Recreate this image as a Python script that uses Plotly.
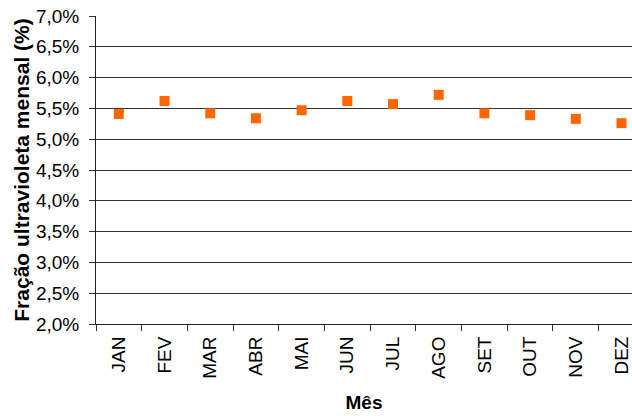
import plotly.graph_objects as go

# Monthly ultraviolet fraction of global radiation
meses = ["JAN", "FEV", "MAR", "ABR", "MAI", "JUN",
         "JUL", "AGO", "SET", "OUT", "NOV", "DEZ"]
fracao_uv = [0.0541, 0.0562, 0.0542, 0.0534, 0.0547, 0.0562,
             0.0557, 0.0572, 0.0542, 0.0539, 0.0533, 0.0526]
y_ticks = [0.020, 0.025, 0.030, 0.035, 0.040, 0.045,
           0.050, 0.055, 0.060, 0.065, 0.070]

fig = go.Figure(
    go.Scatter(
        x=meses,
        y=fracao_uv,
        mode="markers",
        marker=dict(symbol="square", size=10, color="#FF6600",
                    line=dict(width=0)),
        showlegend=False,
    )
)

fig.update_layout(
    width=632,
    height=416,
    margin=dict(l=96, r=0, t=16, b=92),
    paper_bgcolor="white",
    plot_bgcolor="white",
    separators=",.",
    font=dict(family="Liberation Sans, Arial, sans-serif", color="black", size=19),
)

# the last month's slot runs past the right edge of the frame
fig.update_xaxes(
    type="category",
    categoryorder="array",
    categoryarray=meses,
    range=[-0.5, 11.23],
    tickson="boundaries",
    ticks="outside",
    ticklen=6,
    tickwidth=1,
    tickcolor="#333",
    tickangle=-90,
    tickfont=dict(size=19),
    ticklabelstandoff=4,
    showline=True,
    linecolor="#222",
    linewidth=1,
    showgrid=False,
    title=dict(text="<b>Mês</b>", font=dict(size=19), standoff=17),
)

fig.update_yaxes(
    range=[0.020, 0.070],
    tickvals=y_ticks,
    tickformat=".1%",
    ticks="outside",
    ticklen=6,
    tickwidth=1,
    tickcolor="#333",
    tickfont=dict(size=19),
    ticklabelstandoff=6,
    showline=True,
    linecolor="#222",
    linewidth=1,
    showgrid=True,
    gridcolor="#333",
    gridwidth=1,
    zeroline=False,
    title=dict(text="<b>Fração ultravioleta mensal (%)</b>", font=dict(size=21), standoff=0),
)

fig.write_html("out.html")
